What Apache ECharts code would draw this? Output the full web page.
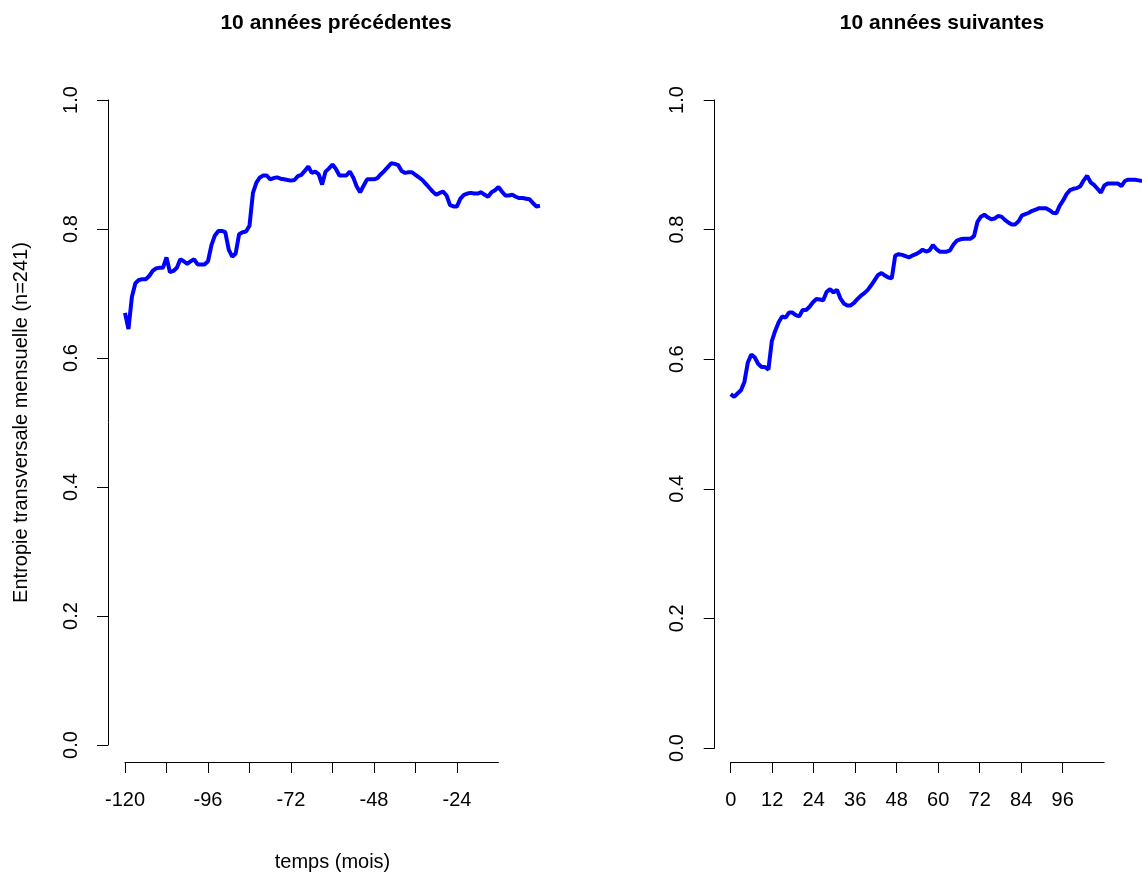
<!DOCTYPE html>
<html>
<head>
<meta charset="utf-8">
<script src="https://cdn.jsdelivr.net/npm/echarts@6/dist/echarts.min.js"></script>
<style>
html,body{margin:0;padding:0;background:#fff;}
#chart{width:1142px;height:877px;}
</style>
</head>
<body>
<div id="chart"></div>
<script>
// ---- data ----
const titles = ['10 années précédentes', '10 années suivantes'];
const yAxisTitle = 'Entropie transversale mensuelle (n=241)';
const xAxisTitle = 'temps (mois)';
const yTicks = [0, 0.2, 0.4, 0.6, 0.8, 1.0];

// months -120 .. 0
const monthsBefore = [];
for (let m = -120; m <= 0; m++) monthsBefore.push(m);
const entropyBefore = [
  0.670, 0.645, 0.695, 0.716, 0.721, 0.722, 0.722, 0.727, 0.735, 0.739,
  0.740, 0.740, 0.756, 0.733, 0.735, 0.740, 0.753, 0.750, 0.746, 0.750,
  0.753, 0.745, 0.745, 0.745, 0.750, 0.775, 0.790, 0.797, 0.797, 0.795,
  0.768, 0.757, 0.762, 0.792, 0.795, 0.796, 0.805, 0.856, 0.872, 0.880,
  0.883, 0.883, 0.877, 0.879, 0.880, 0.878, 0.877, 0.876, 0.875, 0.876,
  0.882, 0.884, 0.890, 0.897, 0.887, 0.889, 0.885, 0.869, 0.889, 0.894,
  0.900, 0.893, 0.883, 0.883, 0.883, 0.889, 0.880, 0.866, 0.857, 0.867,
  0.877, 0.877, 0.877, 0.879, 0.885, 0.890, 0.896, 0.902, 0.901, 0.899,
  0.890, 0.887, 0.888, 0.888, 0.884, 0.880, 0.876, 0.870, 0.864, 0.858,
  0.853, 0.856, 0.858, 0.852, 0.837, 0.835, 0.835, 0.847, 0.853, 0.855,
  0.856, 0.855, 0.855, 0.857, 0.853, 0.850, 0.857, 0.860, 0.865, 0.858,
  0.852, 0.852, 0.853, 0.850, 0.848, 0.848, 0.847, 0.846, 0.840, 0.835,
  0.836
];

// months 0 .. 120
const monthsAfter = [];
for (let m = 0; m <= 120; m++) monthsAfter.push(m);
const entropyAfter = [
  0.546, 0.542, 0.547, 0.552, 0.565, 0.595, 0.607, 0.603, 0.593, 0.588,
  0.588, 0.584, 0.628, 0.644, 0.657, 0.666, 0.664, 0.672, 0.672, 0.668,
  0.666, 0.676, 0.676, 0.681, 0.688, 0.693, 0.692, 0.691, 0.704, 0.708,
  0.703, 0.707, 0.694, 0.686, 0.683, 0.683, 0.687, 0.693, 0.698, 0.702,
  0.707, 0.714, 0.722, 0.730, 0.733, 0.729, 0.726, 0.725, 0.760, 0.762,
  0.761, 0.759, 0.757, 0.760, 0.762, 0.765, 0.769, 0.766, 0.768, 0.776,
  0.770, 0.766, 0.766, 0.766, 0.768, 0.777, 0.783, 0.785, 0.786, 0.786,
  0.786, 0.790, 0.812, 0.820, 0.823, 0.819, 0.816, 0.817, 0.821, 0.820,
  0.815, 0.811, 0.808, 0.808, 0.813, 0.822, 0.824, 0.826, 0.829, 0.831,
  0.833, 0.833, 0.833, 0.830, 0.826, 0.825, 0.837, 0.845, 0.855, 0.861,
  0.863, 0.864, 0.867, 0.876, 0.883, 0.873, 0.869, 0.863, 0.857, 0.868,
  0.871, 0.871, 0.871, 0.871, 0.867, 0.875, 0.877, 0.877, 0.877, 0.876,
  0.875
];

// tick ranges of the drawn x axes
const xTicksBefore = { min: -120, max: -12, step: 12 };
const xTicksAfter = { min: 0, max: 108, step: 12 };

// ---- chart ----
const FONT = '"Liberation Sans", Arial, sans-serif';
const AX = '#000';
const pxPerMonth = 3.458;
const gTop = 100, gH = 648;

const leftData0 = 125, rightData0 = 730.7;

const chart = echarts.init(document.getElementById('chart'), null, {renderer: 'canvas'});

function dataGrid(left) {
  return { left: left, top: gTop, width: pxPerMonth * 120, height: gH, containLabel: false };
}
function axisGrid(left) {
  return { left: left, top: gTop, width: pxPerMonth * 108, height: gH, containLabel: false };
}

const hiddenAxisBits = {
  axisLine: {show: false, onZero: false}, axisTick: {show: false}, axisLabel: {show: false}, splitLine: {show: false}
};

function visibleY(gridIndex, offset, withName) {
  const ax = {
    type: 'value', gridIndex: gridIndex, min: 0, max: 1, interval: 0.2, offset: offset,
    position: 'left',
    axisLine: {show: true, onZero: false, lineStyle: {color: AX, width: 1}},
    axisTick: {show: true, length: 11, lineStyle: {color: AX, width: 1}},
    axisLabel: {
      show: true, rotate: 90, margin: 27, fontSize: 20, color: '#000', fontFamily: FONT,
      formatter: v => v.toFixed(1)
    },
    splitLine: {show: false}
  };
  if (withName) {
    ax.name = yAxisTitle;
    ax.nameLocation = 'middle';
    ax.nameGap = 77;
    ax.nameTextStyle = {fontSize: 20, color: '#000', fontFamily: FONT};
  }
  return ax;
}

function visibleX(gridIndex, rng, labelInterval) {
  return {
    type: 'value', gridIndex: gridIndex, min: rng.min, max: rng.max, interval: rng.step,
    offset: 14, position: 'bottom',
    axisLine: {show: true, onZero: false, lineStyle: {color: AX, width: 1}},
    axisTick: {show: true, length: 11, lineStyle: {color: AX, width: 1}},
    axisLabel: {
      show: true, margin: 28, fontSize: 20, color: '#000', fontFamily: FONT,
      showMaxLabel: false, showMinLabel: true,
      formatter: function (v) {
        const idx = Math.round((v - rng.min) / rng.step);
        if (idx % labelInterval !== 0) return '';
        if (v === rng.max) return '';
        return String(v);
      }
    },
    splitLine: {show: false}
  };
}

const option = {
  backgroundColor: '#fff',
  animation: false,
  title: [
    {text: titles[0], left: 331, top: 8, textAlign: 'center',
     textStyle: {fontSize: 21, fontWeight: 'bold', color: '#000', fontFamily: FONT}},
    {text: titles[1], left: 937, top: 8, textAlign: 'center',
     textStyle: {fontSize: 21, fontWeight: 'bold', color: '#000', fontFamily: FONT}}
  ],
  grid: [
    dataGrid(leftData0), axisGrid(leftData0),
    dataGrid(rightData0), axisGrid(rightData0)
  ],
  xAxis: [
    Object.assign({type: 'value', gridIndex: 0, min: -120, max: 0,
      name: xAxisTitle, nameLocation: 'middle', nameGap: 107,
      nameTextStyle: {fontSize: 20, color: '#000', fontFamily: FONT}}, hiddenAxisBits),
    visibleX(1, xTicksBefore, 2),
    Object.assign({type: 'value', gridIndex: 2, min: 0, max: 120}, hiddenAxisBits),
    visibleX(3, xTicksAfter, 1)
  ],
  yAxis: [
    visibleY(0, 17, true),
    Object.assign({type: 'value', gridIndex: 1, min: 0, max: 1}, hiddenAxisBits),
    visibleY(2, 16, false),
    Object.assign({type: 'value', gridIndex: 3, min: 0, max: 1}, hiddenAxisBits)
  ],
  series: [
    {
      type: 'line', xAxisIndex: 0, yAxisIndex: 0, showSymbol: false,
      data: monthsBefore.map((m, i) => [m, entropyBefore[i]]),
      lineStyle: {color: '#0000ff', width: 4}, clip: false
    },
    {
      type: 'line', xAxisIndex: 2, yAxisIndex: 2, showSymbol: false,
      data: monthsAfter.map((m, i) => [m, entropyAfter[i]]),
      lineStyle: {color: '#0000ff', width: 4}, clip: false
    }
  ]
};
chart.setOption(option);
</script>
</body>
</html>
